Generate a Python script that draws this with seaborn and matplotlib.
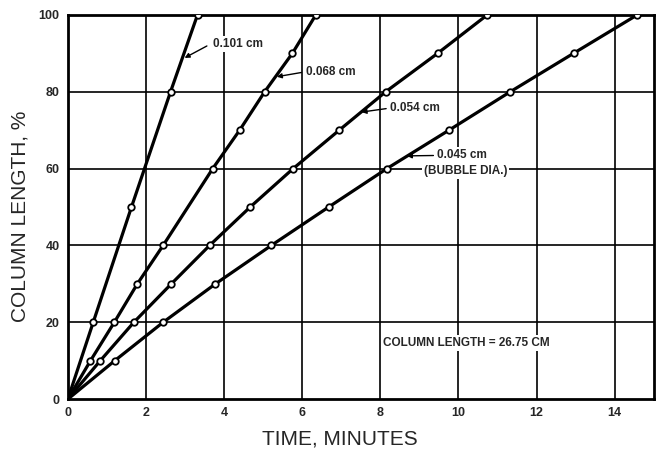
import numpy as np
import pandas as pd
import matplotlib
matplotlib.use("Agg")
import matplotlib.pyplot as plt
import seaborn as sns

# ---- data ----
labels = ["0.101 cm", "0.068 cm", "0.054 cm", "0.045 cm"]

t_101 = [0.0, 0.65, 1.63, 2.63, 3.32]
y_101 = [0, 20, 50, 80, 100]

t_068 = [0.0, 0.58, 1.19, 1.78, 2.44, 3.71, 4.40, 5.04, 5.75, 6.35]
y_068 = [0, 10, 20, 30, 40, 60, 70, 80, 90, 100]

t_054 = [0.0, 0.83, 1.69, 2.65, 3.63, 4.67, 5.77, 6.95, 8.14, 9.47, 10.74]
y_054 = [0, 10, 20, 30, 40, 50, 60, 70, 80, 90, 100]

t_045 = [0.0, 1.20, 2.44, 3.78, 5.21, 6.68, 8.17, 9.76, 11.33, 12.95, 14.58]
y_045 = [0, 10, 20, 30, 40, 50, 60, 70, 80, 90, 100]

x_ticks = [0, 2, 4, 6, 8, 10, 12, 14]
y_ticks = [0, 20, 40, 60, 80, 100]

series = [(labels[0], t_101, y_101), (labels[1], t_068, y_068),
          (labels[2], t_054, y_054), (labels[3], t_045, y_045)]
df = pd.concat([pd.DataFrame({"dia": n, "time": t, "length": y})
                for n, t, y in series], ignore_index=True)

sns.set_theme(style="white")
plt.rcParams['font.family'] = ['Liberation Sans', 'DejaVu Sans']

fig = plt.figure(figsize=(6.65, 4.5), dpi=100)
ax = fig.add_axes([0.102, 0.113, 0.881, 0.854])

for x in x_ticks[1:]:
    ax.axvline(x, color="black", lw=1.2, zorder=1)
for y in y_ticks[1:]:
    ax.axhline(y, color="black", lw=1.2, zorder=1)

for n in labels:
    sub = df[df["dia"] == n]
    sns.lineplot(data=sub, x="time", y="length", ax=ax, color="black",
                 lw=2.3, sort=False, estimator=None, legend=False, zorder=3)
    pts = sub[sub["length"] > 0]
    sns.scatterplot(data=pts, x="time", y="length", ax=ax, s=22,
                    facecolor="white", edgecolor="black", linewidth=1.3,
                    legend=False, zorder=4)

ax.set_xlim(0, 15)
ax.set_ylim(0, 100)
ax.set_xticks(x_ticks)
ax.set_yticks(y_ticks)
ax.set_xticklabels([str(v) for v in x_ticks], fontsize=9, fontweight="bold")
ax.set_yticklabels([str(v) for v in y_ticks], fontsize=9, fontweight="bold")
ax.tick_params(axis="both", length=0, pad=6)
for s in ax.spines.values():
    s.set_color("black")
    s.set_linewidth(2)

ax.set_xlabel("TIME, MINUTES", fontsize=15)
ax.set_ylabel("COLUMN LENGTH, %", fontsize=15)
ax.xaxis.set_label_coords(0.464, -0.08)
ax.yaxis.set_label_coords(-0.066, 0.477)

bb = dict(facecolor="white", edgecolor="none", pad=1.5)
arrow = dict(arrowstyle="-|>", color="black", lw=1.0, mutation_scale=7,
             shrinkA=0, shrinkB=0)
tkw = dict(fontsize=8.5, fontweight="bold", ha="left", va="center",
           bbox=bb, zorder=5)

ax.annotate("", xy=(2.99, 88.8), xytext=(3.56, 91.9), arrowprops=arrow, zorder=5)
ax.text(3.71, 92.4, labels[0], **tkw)
ax.annotate("", xy=(5.35, 83.9), xytext=(5.98, 85.0), arrowprops=arrow, zorder=5)
ax.text(6.09, 85.2, labels[1], **tkw)
ax.annotate("", xy=(7.52, 74.7), xytext=(8.15, 75.6), arrowprops=arrow, zorder=5)
ax.text(8.24, 75.8, labels[2], **tkw)
ax.annotate("", xy=(8.68, 63.3), xytext=(9.36, 63.4), arrowprops=arrow, zorder=5)
ax.text(9.44, 63.5, labels[3], **tkw)
ax.text(9.11, 59.4, "(BUBBLE DIA.)", **tkw)

ax.text(8.06, 14.6, "COLUMN LENGTH = 26.75 CM", fontsize=8.5,
        fontweight="bold", ha="left", va="center", bbox=bb, zorder=5)

fig.savefig("out.png", dpi=100, facecolor="white")
